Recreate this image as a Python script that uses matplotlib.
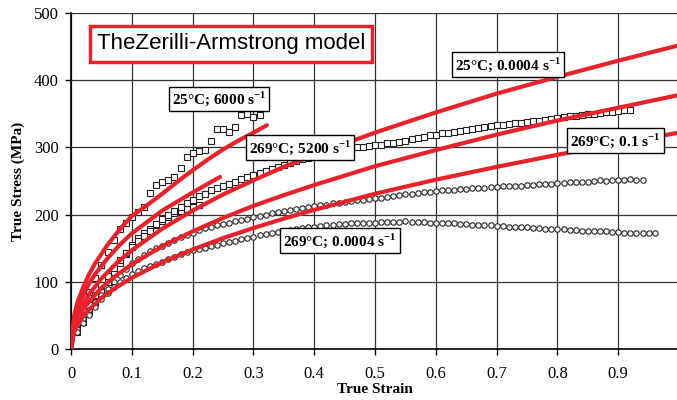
import matplotlib
matplotlib.use("Agg")
import matplotlib.pyplot as plt

plt.rcParams['font.family'] = ['Liberation Serif', 'DejaVu Serif']
plt.rcParams['mathtext.fontset'] = 'custom'
plt.rcParams['mathtext.rm'] = 'Liberation Serif:bold'
plt.rcParams['mathtext.bf'] = 'Liberation Serif:bold'

# strain sampling of the measured curves
strain_grid = [0.01, 0.02, 0.03, 0.04, 0.05, 0.06, 0.07, 0.08, 0.09, 0.10,
               0.11, 0.12, 0.13, 0.14, 0.15, 0.16, 0.17, 0.18, 0.19, 0.20,
               0.21, 0.22, 0.23, 0.24, 0.25, 0.26, 0.27, 0.28, 0.29, 0.30,
               0.31, 0.32, 0.33, 0.34, 0.35, 0.36, 0.37, 0.38, 0.39, 0.40,
               0.41, 0.42, 0.43, 0.44, 0.45, 0.46, 0.47, 0.48, 0.49, 0.50,
               0.51, 0.52, 0.53, 0.54, 0.55, 0.56, 0.57, 0.58, 0.59, 0.60,
               0.61, 0.62, 0.63, 0.64, 0.65, 0.66, 0.67, 0.68, 0.69, 0.70,
               0.71, 0.72, 0.73, 0.74, 0.75, 0.76, 0.77, 0.78, 0.79, 0.80,
               0.81, 0.82, 0.83, 0.84, 0.85, 0.86, 0.87, 0.88, 0.89, 0.90,
               0.91, 0.92, 0.93, 0.94, 0.95, 0.96]

# experimental data (squares: 25C / 5200, circles: 269C)
exp_25c_6000 = [35, 60, 85, 105, 125, 145, 162, 178, 188, 196,
                204, 212, 232, 244, 249, 252, 256, 269, 286, 292,
                295, 296, 310, 327, 327, 323, 330, 348, 350, 345, 348]
exp_269c_5200 = [25, 40, 55, 70, 85, 100, 115, 128, 142, 155,
                 165, 172, 179, 185, 191, 197, 202, 206, 209, 212, 215]
exp_25c_00004 = [30, 48, 65, 80, 95, 108, 120, 132, 143, 152,
                 160, 168, 176, 186, 193, 200, 206, 212, 218, 222,
                 227, 231, 236, 239, 242, 246, 249, 253, 256, 259,
                 262, 265, 268, 271, 274, 277, 280, 282, 284, 286,
                 288, 290, 292, 294, 296, 298, 300, 301, 302, 303,
                 304, 306, 307, 308, 310, 312, 314, 316, 318, 319,
                 321, 322, 323, 325, 326, 327, 329, 330, 332, 333,
                 334, 335, 336, 337, 338, 339, 340, 341, 343, 344,
                 345, 346, 347, 348, 349, 350, 351, 352, 353, 354,
                 355, 356]
exp_269c_01 = [30, 45, 58, 70, 80, 90, 100, 110, 119, 128,
               134, 140, 146, 150, 154, 158, 162, 166, 170, 173,
               177, 180, 182, 184, 186, 188, 190, 192, 194, 196,
               198, 200, 202, 204, 206, 207, 209, 210, 212, 213,
               214, 215, 217, 218, 219, 220, 221, 222, 223, 224,
               225, 226, 228, 229, 230, 231, 232, 233, 234, 235,
               236, 236, 237, 238, 238, 239, 240, 240, 241, 241,
               242, 242, 243, 243, 244, 244, 245, 245, 246, 247,
               247, 248, 248, 249, 249, 250, 251, 250, 252, 251,
               252, 253, 252, 252]
exp_269c_00004 = [25, 38, 50, 62, 74, 84, 93, 100, 106, 111,
                  116, 120, 124, 127, 130, 134, 137, 141, 144, 147,
                  149, 151, 153, 155, 157, 159, 161, 163, 165, 167,
                  169, 171, 172, 174, 175, 177, 178, 180, 181, 182,
                  183, 184, 185, 186, 186, 187, 187, 188, 188, 188,
                  189, 189, 189, 189, 190, 189, 189, 189, 188, 188,
                  188, 187, 187, 186, 186, 185, 185, 184, 184, 183,
                  183, 182, 182, 181, 181, 180, 180, 179, 179, 178,
                  178, 177, 177, 176, 176, 175, 175, 175, 174, 174,
                  173, 173, 173, 172, 172, 172]

# Zerilli-Armstrong model curves
za_6000_x = [0, 0.005, 0.01, 0.02, 0.03, 0.04, 0.06, 0.08, 0.10, 0.125, 0.15, 0.175, 0.20, 0.225, 0.25, 0.275, 0.30, 0.322]
za_6000_y = [0, 50, 68, 92, 112, 128, 155, 178, 198, 214, 231, 249, 266, 282, 297, 310, 322, 333]
za_5200_x = [0, 0.005, 0.01, 0.02, 0.03, 0.04, 0.06, 0.08, 0.10, 0.15, 0.20, 0.245]
za_5200_y = [0, 42, 58, 80, 98, 112, 135, 155, 172, 206, 233, 256]
model_x = [0, 0.005, 0.01, 0.02, 0.03, 0.05, 0.075, 0.10, 0.15, 0.20, 0.25, 0.30, 0.35,
           0.40, 0.50, 0.60, 0.70, 0.80, 0.90, 1.0]
za_25_00004_y = [0, 34, 48, 67, 82, 105, 128, 147, 179, 206, 230, 251, 271,
                 289, 322, 352, 380, 405, 429, 452]
za_269_01_y = [0, 30, 42, 59, 71, 91, 110, 126, 153, 175, 195, 213, 229,
               244, 272, 296, 319, 340, 359, 378]
za_269_00004_y = [0, 25, 35, 49, 59, 76, 92, 106, 129, 148, 165, 180, 194,
                  207, 231, 252, 271, 289, 306, 322]

labels = ['25°C; 6000 s$^{-1}$', '269°C; 5200 s$^{-1}$', '25°C; 0.0004 s$^{-1}$',
          '269°C; 0.1 s$^{-1}$', '269°C; 0.0004 s$^{-1}$']
label_pos = [(0.243, 372), (0.377, 300), (0.719, 423), (0.896, 310), (0.442, 161)]

red = '#e8222a'

fig = plt.figure(figsize=(6.77, 4.0), dpi=100)
ax = fig.add_axes([0.105, 0.1275, 0.898, 0.84])

sq = dict(marker='s', ms=4.4, mfc='white', mec='#222222', mew=0.8, ls='none', zorder=3)
ci = dict(marker='o', ms=3.9, mfc='white', mec='#222222', mew=0.8, ls='none', zorder=3)
ax.plot(strain_grid[:len(exp_25c_6000)], exp_25c_6000, **sq)
ax.plot(strain_grid[:len(exp_269c_5200)], exp_269c_5200, **sq)
ax.plot(strain_grid[:len(exp_25c_00004)], exp_25c_00004, **sq)
ax.plot(strain_grid[:len(exp_269c_01)], exp_269c_01, **ci)
ax.plot(strain_grid[:len(exp_269c_00004)], exp_269c_00004, **ci)

for xs, ys in [(za_6000_x, za_6000_y), (za_5200_x, za_5200_y),
               (model_x, za_25_00004_y), (model_x, za_269_01_y),
               (model_x, za_269_00004_y)]:
    ax.plot(xs, ys, color=red, lw=3.0, solid_capstyle='round', solid_joinstyle='round', zorder=4)

for txt, (x, y) in zip(labels, label_pos):
    ax.text(x, y, txt, ha='center', va='center', fontsize=11, fontweight='bold', zorder=6,
            bbox=dict(boxstyle='square,pad=0.2', fc='white', ec='black', lw=1.0))

ax.text(0.263, 454, 'TheZerilli-Armstrong model', ha='center', va='center', fontsize=16,
        family='Liberation Sans', zorder=6,
        bbox=dict(boxstyle='square,pad=0.32', fc='white', ec=red, lw=2.5))

ax.set_xlim(0, 1.0)
ax.set_ylim(0, 500)
ax.set_xticks([0, 0.1, 0.2, 0.3, 0.4, 0.5, 0.6, 0.7, 0.8, 0.9])
ax.set_xticklabels(['0', '0.1', '0.2', '0.3', '0.4', '0.5', '0.6', '0.7', '0.8', '0.9'])
ax.set_yticks([0, 100, 200, 300, 400, 500])
ax.grid(True, color='#333333', lw=0.9)
ax.tick_params(labelsize=12, length=4, width=1, direction='out', pad=5)
ax.tick_params(axis='x', pad=8)
for s in ['top', 'right']:
    ax.spines[s].set_visible(False)
ax.spines['left'].set_linewidth(1.2)
ax.spines['bottom'].set_linewidth(1.2)
ax.set_xlabel('True Strain', fontsize=11, fontweight='bold', labelpad=1)
ax.set_ylabel('True Stress (MPa)', fontsize=11, fontweight='bold', labelpad=6)

fig.savefig('out.png', dpi=100)
